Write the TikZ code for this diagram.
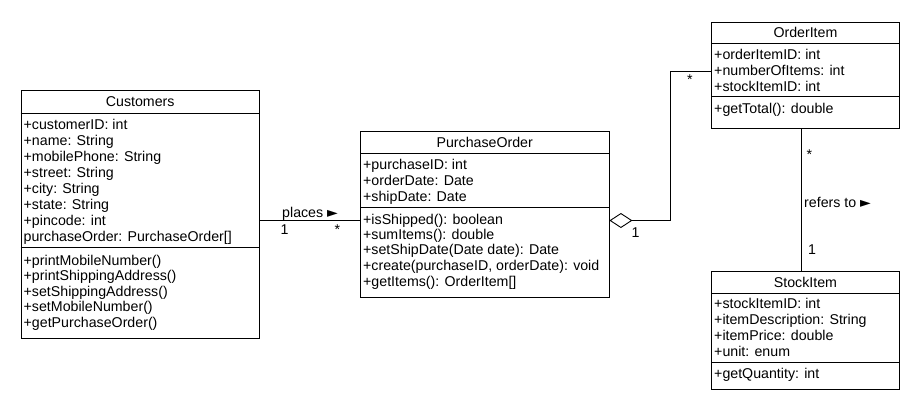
\documentclass[tikz,border=0pt]{standalone}
\usepackage{fontspec}
\setmainfont{Liberation Sans}
\newfontfamily\symfont{DejaVu Sans}
\usetikzlibrary{arrows.meta}
\newcommand{\ptr}{{\symfont\fontsize{14}{14}\selectfont ►}}
\begin{document}
\begin{tikzpicture}[x=1pt,y=-1pt,
  every node/.style={font=\fontsize{14.2}{16}\selectfont},
  cls/.style={draw, line width=0.9pt, inner sep=0pt, anchor=north west},
  nm/.style={anchor=base, inner sep=0pt},
  row/.style={anchor=base west, inner sep=0pt},
  conn/.style={line width=0.9pt},
  divl/.style={line width=0.9pt}]
\useasboundingbox (0,0) rectangle (920,410);

% ---------- Customers ----------
\node[cls, minimum width=238.5pt, minimum height=248pt] (cust) at (20.5,90) {};
\draw[divl] (cust.west |- 0,113) -- (cust.east |- 0,113);
\draw[divl] (cust.west |- 0,247) -- (cust.east |- 0,247);
\node[nm] (custn) at (cust.north |- 0,106.5) {Customers};
\node[row] (c1) at (23.5,129) {+customerID: int};
\node[row] (c2) at (23.5,145) {+name: String};
\node[row] (c3) at (23.5,161) {+mobilePhone: String};
\node[row] (c4) at (23.5,177) {+street: String};
\node[row] (c5) at (23.5,193) {+city: String};
\node[row] (c6) at (23.5,209) {+state: String};
\node[row] (c7) at (23.5,225) {+pincode: int};
\node[row] (c8) at (23.5,241) {purchaseOrder: PurchaseOrder[]};
\node[row] (cm1) at (23.5,265) {+printMobileNumber()};
\node[row] (cm2) at (23.5,280.5) {+printShippingAddress()};
\node[row] (cm3) at (23.5,296) {+setShippingAddress()};
\node[row] (cm4) at (23.5,311.5) {+setMobileNumber()};
\node[row] (cm5) at (23.5,327) {+getPurchaseOrder()};

% ---------- PurchaseOrder ----------
\node[cls, minimum width=248.5pt, minimum height=166pt] (po) at (360,131) {};
\draw[divl] (po.west |- 0,153) -- (po.east |- 0,153);
\draw[divl] (po.west |- 0,207) -- (po.east |- 0,207);
\node[nm] (pon) at (po.north |- 0,147) {PurchaseOrder};
\node[row] (p1) at (363,169) {+purchaseID: int};
\node[row] (p2) at (363,185.5) {+orderDate: Date};
\node[row] (p3) at (363,201.5) {+shipDate: Date};
\node[row] (pm1) at (363,224) {+isShipped(): boolean};
\node[row] (pm2) at (363,239) {+sumItems(): double};
\node[row] (pm3) at (363,254.5) {+setShipDate(Date date): Date};
\node[row] (pm4) at (363,270) {+create(purchaseID, orderDate): void};
\node[row] (pm5) at (363,286) {+getItems(): OrderItem[]};

% ---------- OrderItem ----------
\node[cls, minimum width=188pt, minimum height=106pt] (oi) at (711,22) {};
\draw[divl] (oi.west |- 0,43) -- (oi.east |- 0,43);
\draw[divl] (oi.west |- 0,96) -- (oi.east |- 0,96);
\node[nm] (oin) at (oi.north |- 0,37.5) {OrderItem};
\node[row] (o1) at (714,59) {+orderItemID: int};
\node[row] (o2) at (714,75) {+numberOfItems: int};
\node[row] (o3) at (714,91) {+stockItemID: int};
\node[row] (om1) at (714,113) {+getTotal(): double};

% ---------- StockItem ----------
\node[cls, minimum width=188pt, minimum height=118pt] (si) at (711,271) {};
\draw[divl] (si.west |- 0,293) -- (si.east |- 0,293);
\draw[divl] (si.west |- 0,362) -- (si.east |- 0,362);
\node[nm] (sin) at (si.north |- 0,287) {StockItem};
\node[row] (s1) at (714,308.5) {+stockItemID: int};
\node[row] (s2) at (714,324.5) {+itemDescription: String};
\node[row] (s3) at (714,340) {+itemPrice: double};
\node[row] (s4) at (714,356) {+unit: enum};
\node[row] (sm1) at (714,378) {+getQuantity: int};

% ---------- connectors ----------
\coordinate (plc) at (300,220.5);
\draw[conn] (cust.east |- plc) -- (po.west |- plc);
\node[row] (plab) at (282,217) {places \ptr};
\node[row] (pl1) at (280.5,234) {1};
\node[row] (pls) at (334.5,234.5) {*};

\coordinate (ag) at (640,220.5);
\coordinate (agb) at (670,71);
\draw[conn, {Diamond[open, length=23pt, width=15pt, line width=0.9pt]}-] (po.east |- ag) -| (agb) -- (oi.west |- agb);
\node[row] (ag1) at (631.5,237) {1};
\node[row] (ags) at (687,84) {*};

\coordinate (rf) at (801,200);
\draw[conn] (oi.south -| rf) -- (si.north -| rf);
\node[row] (rfs) at (806.5,159.5) {*};
\node[row] (rflab) at (804,207) {refers to \ptr};
\node[row] (rf1) at (808,254) {1};
\end{tikzpicture}
\end{document}
